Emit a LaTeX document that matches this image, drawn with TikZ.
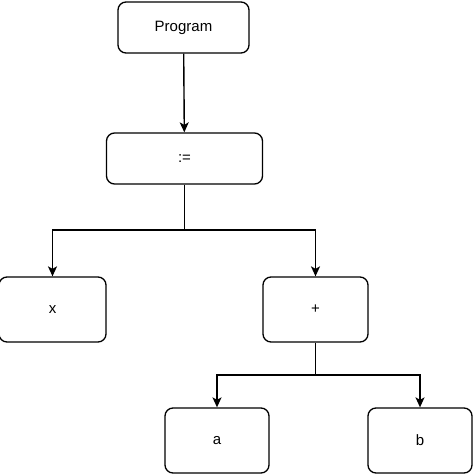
\documentclass[tikz,border=0pt]{standalone}
\usepackage{fontspec}
\setmainfont{Liberation Sans}
\usetikzlibrary{arrows.meta}
\begin{document}
\begin{tikzpicture}[x=1pt,y=-1pt,
  box/.style={draw,line width=1.3pt,rounded corners=8pt,inner sep=0pt,font=\fontsize{15}{17}\selectfont},
  conn/.style={line width=1.4pt,-{Stealth[length=10pt,width=9pt,inset=2.5pt]}}]
\useasboundingbox (0,0) rectangle (474,474);
\node[box,minimum width=131pt,minimum height=51pt] (prog) at (183.5,27.5) {Program};
\node[box,minimum width=156pt,minimum height=51pt] (asg) at (184.5,158.5) {:=};
\node[box,minimum width=107pt,minimum height=65pt] (x) at (52.5,309.5) {x};
\node[box,minimum width=105pt,minimum height=65pt] (plus) at (315.5,309.5) {+};
\node[box,minimum width=104pt,minimum height=65pt] (a) at (217,440.5) {a};
\node[box,minimum width=104pt,minimum height=65pt] (b) at (420,440.5) {b};
\coordinate (j1) at (184.5,230);
\coordinate (j2) at (315.5,375);
\draw[conn] (prog) -- (asg);
\draw[line width=1.4pt] (asg.south) -- (j1);
\draw[conn] (j1) -| (x.north);
\draw[conn] (j1) -| (plus.north);
\draw[line width=0.8pt] (plus.south) -- (j2);
\draw[conn] (j2) -| (a.north);
\draw[conn] (j2) -| (b.north);
\end{tikzpicture}
\end{document}
